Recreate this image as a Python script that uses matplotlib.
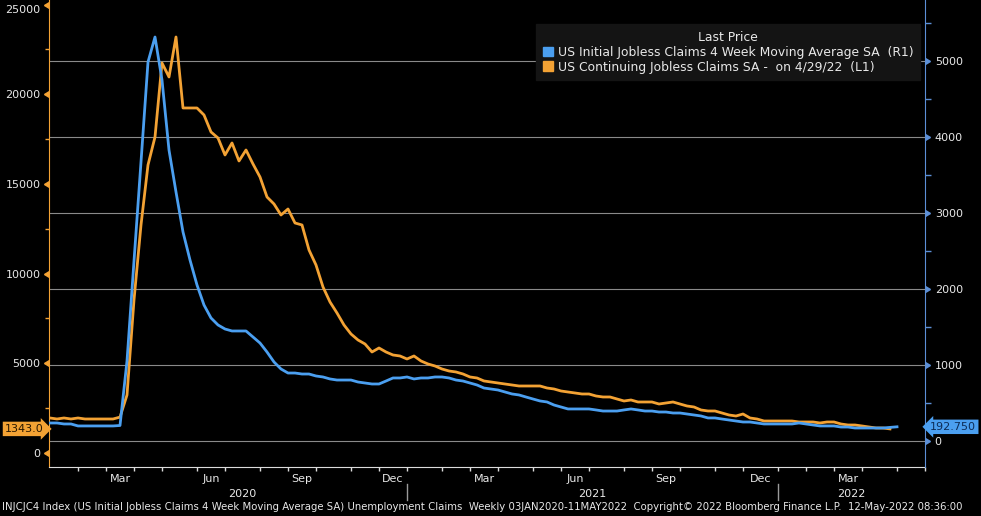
import matplotlib
matplotlib.use("Agg")
import matplotlib.pyplot as plt
from matplotlib.patches import Patch
import numpy as np
import pandas as pd

# weekly values (thousands), starting Fri 03-Jan-2020
initial_4wk = [
    243, 243, 243, 230, 230, 204, 204, 204, 204, 204, 204, 210,
    1057, 2370, 3670, 4983, 5311, 4747, 3827, 3276, 2751, 2383, 2055, 1792,
    1622, 1530, 1477, 1451, 1451, 1451, 1372, 1293, 1175, 1044, 952, 899,
    899, 886, 886, 860, 847, 821, 807, 807, 807, 781, 768, 755,
    755, 794, 834, 834, 847, 821, 834, 834, 847, 847, 834, 807,
    794, 768, 742, 702, 689, 676, 650, 624, 611, 584, 558, 532,
    519, 479, 453, 427, 427, 427, 427, 414, 400, 400, 400, 414,
    427, 414, 400, 400, 387, 387, 374, 374, 361, 348, 335, 309,
    309, 295, 282, 269, 256, 256, 243, 230, 230, 230, 230, 230,
    243, 230, 217, 204, 204, 204, 190, 190, 177, 177, 177, 177,
    177, 185, 192.75,
]
continuing = [
    1952, 1952, 1896, 1952, 1896, 1952, 1896, 1896, 1896, 1896, 1896, 2000,
    3234, 8531, 12713, 16059, 17620, 21746, 20966, 23196, 19237, 19237, 19237, 18847,
    17899, 17564, 16616, 17286, 16282, 16895, 16115, 15390, 14275, 13884, 13271, 13605,
    12825, 12713, 11319, 10483, 9256, 8420, 7806, 7137, 6635, 6301, 6078, 5632,
    5855, 5632, 5464, 5409, 5241, 5409, 5130, 4963, 4851, 4684, 4572, 4517,
    4405, 4238, 4182, 4015, 3959, 3903, 3847, 3792, 3736, 3736, 3736, 3736,
    3624, 3569, 3457, 3401, 3346, 3290, 3290, 3178, 3123, 3123, 3011, 2900,
    2955, 2844, 2844, 2844, 2732, 2788, 2844, 2732, 2621, 2565, 2398, 2342,
    2342, 2230, 2119, 2063, 2175, 1952, 1896, 1784, 1784, 1784, 1784, 1784,
    1729, 1729, 1729, 1673, 1729, 1729, 1617, 1561, 1561, 1506, 1450, 1394,
    1394, 1343,
]
left_ticks = [0, 5000, 10000, 15000, 20000, 25000]
right_ticks = [0, 1000, 2000, 3000, 4000, 5000]
quarter_months = {3: "Mar", 6: "Jun", 9: "Sep", 12: "Dec"}
legend_labels = ["US Initial Jobless Claims 4 Week Moving Average SA  (R1)",
                 "US Continuing Jobless Claims SA -  on 4/29/22  (L1)"]
footer = ("INJCJC4 Index (US Initial Jobless Claims 4 Week Moving Average SA) Unemployment Claims  "
          "Weekly 03JAN2020-11MAY2022  Copyright\u00a9 2022 Bloomberg Finance L.P.  12-May-2022 08:36:00")

BLUE = "#4b9ff0"
ORANGE = "#f3a234"
TXT = "#e8e8e8"

blue_dates = pd.date_range("2020-01-03", periods=len(initial_4wk), freq="7D")
orange_dates = pd.date_range("2020-01-03", periods=len(continuing), freq="7D")
x0, x1 = pd.Timestamp("2020-01-09"), pd.Timestamp("2022-06-03")

plt.rcParams["font.family"] = ["DejaVu Sans"]
fig = plt.figure(figsize=(9.81, 5.16), dpi=100, facecolor="black")
ax = fig.add_axes([49 / 981, 49 / 516, 876 / 981, 467 / 516])
ax.set_facecolor("black")
ax2 = ax.twinx()

ax.plot(orange_dates, continuing, color=ORANGE, lw=2.0, zorder=3)
ax2.plot(blue_dates, initial_4wk, color=BLUE, lw=2.0, zorder=3)

ax.set_xlim(x0, x1)
ax.set_ylim(-781, 25258)
ax2.set_ylim(-335, 5797)

# grid follows the right axis
r0, r1 = ax2.get_ylim()
for r in right_ticks:
    f = (r - r0) / (r1 - r0)
    ax.plot([0, 1], [f, f], transform=ax.transAxes, color="#8a8a8a", lw=0.8, zorder=0)

# spines
for a in (ax, ax2):
    for s in a.spines.values():
        s.set_visible(False)
ax.spines["left"].set_visible(True)
ax.spines["left"].set_color(ORANGE)
ax.spines["bottom"].set_visible(True)
ax.spines["bottom"].set_color("#dcdcdc")
ax2.spines["right"].set_visible(True)
ax2.spines["right"].set_color("#5c8fd6")

# left axis
ax.set_yticks(left_ticks, [str(v) for v in left_ticks])
ax.set_yticks(np.arange(2500, 25001, 5000), minor=True)
ax.tick_params(axis="y", which="major", length=0, pad=6, labelcolor=TXT, labelsize=8)
ax.tick_params(axis="y", which="minor", length=3, color=ORANGE, width=1)
ax.plot([0] * len(left_ticks), left_ticks, transform=ax.get_yaxis_transform(),
        ls="none", marker=8, ms=5, color=ORANGE, clip_on=False)

# right axis
ax2.set_yticks(right_ticks, [str(v) for v in right_ticks])
ax2.set_yticks(np.arange(500, 5501, 1000), minor=True)
ax2.tick_params(axis="y", which="major", length=0, pad=7, labelcolor=TXT, labelsize=8)
ax2.tick_params(axis="y", which="minor", length=4, color="#5c8fd6", width=1)
ax2.plot([1] * len(right_ticks), right_ticks, transform=ax2.get_yaxis_transform(),
         ls="none", marker=9, ms=5, color="#5c8fd6", clip_on=False)

# x axis: ticks at first week of each month, labels centred in quarter months
fridays = pd.date_range("2020-01-03", "2022-07-01", freq="W-FRI")
month_starts = fridays.to_series().groupby([fridays.year, fridays.month]).first().tolist()
month_starts = [d for d in month_starts if x0 <= d <= x1]
ax.set_xticks(month_starts, minor=True)
mids, mlabels = [], []
for a, b in zip(month_starts[:-1], month_starts[1:]):
    if a.month in quarter_months:
        mids.append(a + (b - a) / 2)
        mlabels.append(quarter_months[a.month])
ax.set_xticks(mids, mlabels)
ax.tick_params(axis="x", which="major", length=0, pad=5, labelcolor=TXT, labelsize=8)
ax.tick_params(axis="x", which="minor", length=3, color="#dcdcdc", width=1)
ax.set_xlim(x0, x1)

xt = ax.get_xaxis_transform()
year_starts = [d for d in month_starts if d.month == 1]
for yr in (2020, 2021, 2022):
    a = max(x0, next(d for d in month_starts if d.year == yr))
    nxt = [d for d in year_starts if d.year == yr + 1]
    b = min(x1, nxt[0]) if nxt else x1
    ax.text(a + (b - a) / 2, -0.058, str(yr), transform=xt, ha="center", va="center",
            color=TXT, fontsize=8)
for d in year_starts:
    if x0 < d < x1:
        ax.plot([d, d], [-0.036, -0.071], transform=xt, color="#9a9a9a", lw=1, clip_on=False)

# last value boxes
ax.text(-0.006, continuing[-1], f"{continuing[-1]:.1f}", transform=ax.get_yaxis_transform(),
        ha="right", va="center", color="#2a1800", fontsize=8,
        bbox=dict(boxstyle="rarrow,pad=0.2", fc=ORANGE, ec="none"), zorder=5)
ax2.text(1.006, initial_4wk[-1], f"{initial_4wk[-1]:.3f}", transform=ax2.get_yaxis_transform(),
         ha="left", va="center", color="#0d2c57", fontsize=8,
         bbox=dict(boxstyle="larrow,pad=0.2", fc=BLUE, ec="none"), zorder=5)

# legend
handles = [Patch(color=BLUE), Patch(color=ORANGE)]
leg = ax2.legend(handles, legend_labels, title="Last Price", loc="upper right",
                 bbox_to_anchor=(0.9943, 0.9486), borderaxespad=0,
                 fontsize=8.9, title_fontsize=8.9,
                 frameon=True, facecolor="#141414", edgecolor="#141414", framealpha=1,
                 handlelength=0.8, handleheight=0.8, handletextpad=0.4,
                 labelspacing=0.15, borderpad=0.55, fancybox=False)
for t in leg.get_texts():
    t.set_color(TXT)
leg.get_title().set_color(TXT)

ax.yaxis.get_major_ticks()[-1].label1.set_verticalalignment("top")

fig.text(0.002, 1 - 507 / 516, footer, color=TXT, fontsize=7.3, va="center", ha="left")

fig.savefig("out.png", dpi=100, facecolor="black")
